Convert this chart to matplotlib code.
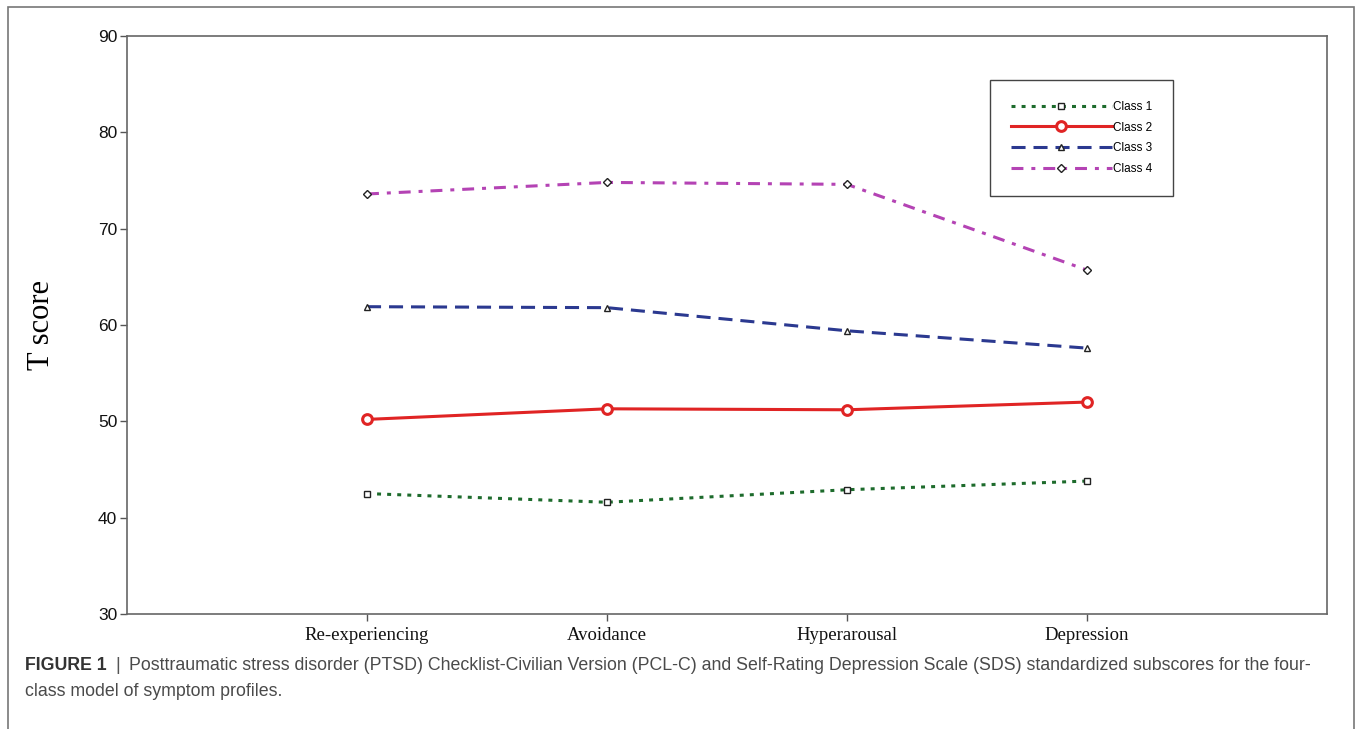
import matplotlib
matplotlib.use("Agg")
import matplotlib.pyplot as plt
from matplotlib.patches import Rectangle

# Data
categories = ["Re-experiencing", "Avoidance", "Hyperarousal", "Depression"]
class1 = [42.5, 41.6, 42.9, 43.8]
class2 = [50.2, 51.3, 51.2, 52.0]
class3 = [61.9, 61.8, 59.4, 57.6]
class4 = [73.6, 74.8, 74.6, 65.7]
series_labels = ["Class 1", "Class 2", "Class 3", "Class 4"]
y_ticks = [30, 40, 50, 60, 70, 80, 90]

W, H = 1355, 729
fig = plt.figure(figsize=(W / 100, H / 100), dpi=100)
ax = fig.add_axes([127 / W, 1 - 614 / H, 1200 / W, 578 / H])

x = list(range(1, len(categories) + 1))
lw = 2.2

ax.plot(x, class1, color="#1d6b2c", lw=lw, linestyle=(0, (1.3, 2.0)),
        marker="s", ms=5, mfc="white", mec="#222222", mew=1, label=series_labels[0])
ax.plot(x, class2, color="#e02424", lw=lw, linestyle="-",
        marker="o", ms=7, mfc="white", mec="#e02424", mew=2.2, label=series_labels[1])
ax.plot(x, class3, color="#2b3990", lw=lw, linestyle=(0, (4.6, 2.6)),
        marker="^", ms=5, mfc="white", mec="#222222", mew=1, label=series_labels[2])
ax.plot(x, class4, color="#b443b4", lw=lw, linestyle=(0, (3.9, 2.6, 1.3, 2.6)),
        marker="D", ms=4, mfc="white", mec="#222222", mew=1, label=series_labels[3])

ax.set_xlim(0, 5)
ax.set_ylim(30, 90)
ax.set_xticks(x)
ax.set_xticklabels(categories, fontfamily="Liberation Serif", fontsize=13.5)
ax.set_yticks(y_ticks)
ax.set_yticklabels([str(v) for v in y_ticks], fontfamily="Liberation Sans", fontsize=12.5)
ax.tick_params(axis="both", direction="out", length=5, width=1, color="#555555",
               labelcolor="#111111")
ax.tick_params(axis="x", pad=4)
ax.tick_params(axis="y", pad=2)
for s in ax.spines.values():
    s.set_color("#666666")
    s.set_linewidth(1.2)

ax.set_ylabel("T score", fontfamily="Liberation Serif", fontsize=22, labelpad=30)

leg = ax.legend(loc="upper left", bbox_to_anchor=((990 - 127) / 1200, (614 - 80) / 578),
                prop={"family": "Liberation Sans", "size": 8.5}, handlelength=8.6,
                handletextpad=0.1, labelspacing=0.75, borderpad=1.75, borderaxespad=0,
                fancybox=False, framealpha=1, numpoints=1)
leg.get_frame().set_edgecolor("#444444")
leg.get_frame().set_linewidth(1.0)

# outer frame of the figure panel
fig.add_artist(Rectangle((8 / W, -0.02), (1354 - 8) / W, (H - 7) / H + 0.02,
                         transform=fig.transFigure, fill=False, ec="#777777", lw=1.2))

# caption
fig.canvas.draw()
renderer = fig.canvas.get_renderer()
cap_font = {"family": "Liberation Sans", "size": 12.8}
y1 = 1 - 665 / H
t1 = fig.text(25 / W, y1, "FIGURE 1", fontdict=cap_font, fontweight="bold",
              color="#333333", va="center")
bb = t1.get_window_extent(renderer)
t2 = fig.text((bb.x1 + 9) / W, y1, "|", fontdict=cap_font, color="#555555", va="center")
bb = t2.get_window_extent(renderer)
fig.text((bb.x1 + 9) / W, y1,
         "Posttraumatic stress disorder (PTSD) Checklist-Civilian Version (PCL-C) and "
         "Self-Rating Depression Scale (SDS) standardized subscores for the four-",
         fontdict=cap_font, color="#4a4a4a", va="center")
fig.text(25 / W, 1 - 692 / H, "class model of symptom profiles.", fontdict=cap_font,
         color="#4a4a4a", va="center")

fig.savefig("out.png", dpi=100)
